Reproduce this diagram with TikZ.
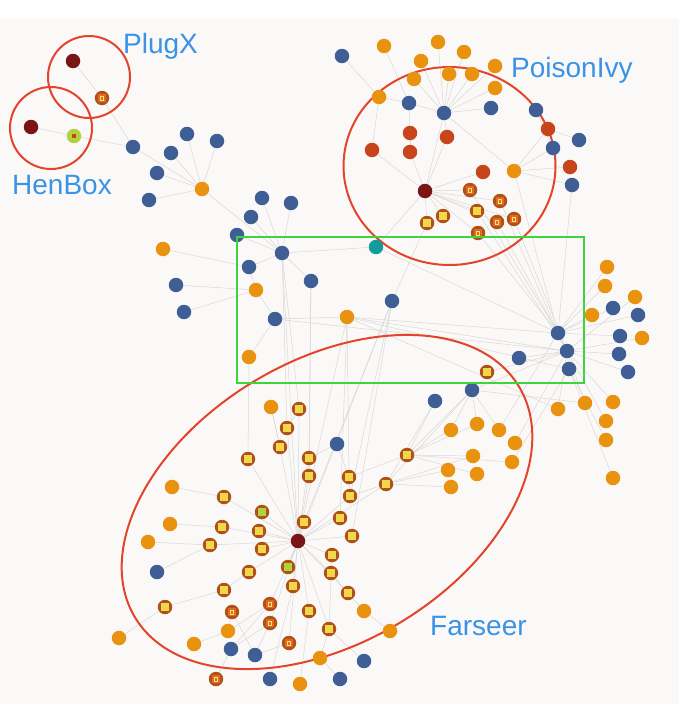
\documentclass[tikz,border=0pt]{standalone}
\usepackage{fontspec}
\setmainfont{Liberation Sans}
\definecolor{bgc}{HTML}{FAF9F7}
\definecolor{orc}{HTML}{E8920F}
\definecolor{blc}{HTML}{3F5E96}
\definecolor{dkr}{HTML}{7B1414}
\definecolor{rdc}{HTML}{C8441A}
\definecolor{ringc}{HTML}{AE521A}
\definecolor{yelc}{HTML}{F2D64B}
\definecolor{rinn}{HTML}{E2691F}
\definecolor{tlc}{HTML}{149B9B}
\definecolor{elc}{HTML}{E3442B}
\definecolor{grc}{HTML}{3ED43E}
\definecolor{lbc}{HTML}{3A93E6}
\definecolor{edc}{HTML}{D8D8D8}
\definecolor{lgc}{HTML}{B3D13C}
\pgfdeclarelayer{bg}
\pgfdeclarelayer{edges}
\pgfdeclarelayer{top}
\pgfsetlayers{bg,edges,main,top}
\tikzset{
  nd/.style={circle,minimum size=14.5pt,inner sep=0pt,draw=none},
  ob/.style={nd,fill=orc},
  bb/.style={nd,fill=blc},
  dh/.style={nd,fill=dkr},
  rr/.style={nd,fill=rdc},
  tb/.style={nd,fill=tlc},
  sqy/.style={nd,fill=ringc,path picture={\fill[yelc] ([xshift=-3.7pt,yshift=-3.7pt]path picture bounding box.center) rectangle ++(7.4pt,7.4pt);}},
  sqg/.style={nd,fill=ringc,path picture={\fill[lgc] ([xshift=-3.7pt,yshift=-3.7pt]path picture bounding box.center) rectangle ++(7.4pt,7.4pt);}},
  sqr/.style={nd,fill=ringc,path picture={\fill[rinn] ([xshift=-3.7pt,yshift=-3.7pt]path picture bounding box.center) rectangle ++(7.4pt,7.4pt);
     \draw[yelc!70!white,line width=0.5pt] ([xshift=-1.6pt,yshift=-1.8pt]path picture bounding box.center) rectangle ++(3.2pt,3.6pt);}},
  gn/.style={nd,fill=lgc,path picture={\fill[rdc] ([xshift=-1.8pt,yshift=-2pt]path picture bounding box.center) rectangle ++(3.6pt,4pt);}},
  edge/.style={draw=edc,line width=0.5pt},
  hull/.style={draw=elc,line width=2pt},
  lab/.style={text=lbc,font=\fontsize{28}{30}\selectfont,anchor=base west,inner sep=0pt}
}
\begin{document}
\begin{tikzpicture}[x=1pt,y=-1pt]
\begin{pgfonlayer}{bg}
\fill[bgc] (0,0) rectangle (679,704);
\fill[white] (0,0) rectangle (679,19);
\end{pgfonlayer}
\useasboundingbox (0,0) rectangle (679,704);
% hulls
\draw[hull] (89,77) circle [radius=41pt];
\draw[hull] (51,128) circle [radius=41pt];
\draw[hull] (449.5,166) ellipse [x radius=106pt, y radius=99pt];
\draw[hull,shift={(327,502)},rotate=31] (0,0) ellipse [x radius=224pt, y radius=141pt];
% labels
\node[lab] (lpx) at (123,53) {PlugX};
\node[lab] (lhb) at (12,194) {HenBox};
\node[lab] (lpi) at (511,77) {PoisonIvy};
\node[lab] (lfs) at (430,635) {Farseer};
% top-left
\node[dh] (pxh) at (73,61) {};
\node[sqr] (pxs) at (102,98) {};
\node[dh] (hbh) at (31,127) {};
\node[gn] (hbg) at (74,136) {};
\node[bb] (b1) at (133,147) {};
\node[bb] (b2) at (171,153) {};
\node[bb] (b3) at (187,134) {};
\node[bb] (b4) at (217,141) {};
\node[bb] (b5) at (157,173) {};
\node[ob] (o1) at (202,189) {};
\node[bb] (b6) at (149,200) {};
\node[bb] (b7) at (262,198) {};
\node[bb] (b8) at (291,203) {};
\node[bb] (b9) at (251,217) {};
\node[bb] (b10) at (237,235) {};
\node[bb] (bh) at (282,253) {};
\node[ob] (o2) at (163,249) {};
\node[bb] (b11) at (249,267) {};
\node[bb] (b12) at (176,285) {};
\node[ob] (o3) at (256,290) {};
\node[bb] (b13) at (311,281) {};
\node[bb] (b14) at (184,312) {};
\node[bb] (b15) at (275,319) {};
\node[ob] (o4) at (347,317) {};
\node[ob] (o5) at (249,357) {};
\node[bb] (b16) at (392,301) {};
\node[tb] (tl) at (376,247) {};
% PoisonIvy
\node[bb] (b20) at (342,56) {};
\node[ob] (o20) at (384,46) {};
\node[ob] (o21) at (438,42) {};
\node[ob] (o22) at (464,52) {};
\node[ob] (o23) at (421,61) {};
\node[ob] (o24) at (495,66) {};
\node[ob] (o25) at (414,79) {};
\node[ob] (o26) at (449,74) {};
\node[ob] (o27) at (472,74) {};
\node[ob] (o28) at (495,88) {};
\node[ob] (o29) at (379,97) {};
\node[bb] (b21) at (409,103) {};
\node[bb] (b22) at (444,113) {};
\node[bb] (b23) at (491,108) {};
\node[bb] (b24) at (536,110) {};
\node[rr] (r1) at (548,129) {};
\node[bb] (b25) at (579,140) {};
\node[bb] (b26) at (553,148) {};
\node[rr] (r2) at (410,133) {};
\node[rr] (r3) at (447,137) {};
\node[rr] (r4) at (372,150) {};
\node[rr] (r5) at (410,152) {};
\node[rr] (r6) at (570,167) {};
\node[bb] (b27) at (572,185) {};
\node[rr] (r7) at (483,172) {};
\node[ob] (o30) at (514,171) {};
\node[dh] (pih) at (425,191) {};
\node[sqr] (s1) at (470,190) {};
\node[sqr] (s2) at (500,201) {};
\node[sqy] (s3) at (477,211) {};
\node[sqy] (s4) at (443,216) {};
\node[sqy] (s5) at (427,223) {};
\node[sqr] (s6) at (497,222) {};
\node[sqr] (s7) at (514,219) {};
\node[sqr] (s8) at (478,233) {};
% right side
\node[ob] (o40) at (607,267) {};
\node[ob] (o41) at (605,286) {};
\node[ob] (o42) at (635,297) {};
\node[bb] (b40) at (613,308) {};
\node[ob] (o43) at (592,315) {};
\node[bb] (b41) at (638,315) {};
\node[bb] (b42) at (558,333) {};
\node[bb] (b43) at (620,336) {};
\node[ob] (o44) at (642,338) {};
\node[bb] (b44) at (567,351) {};
\node[bb] (b45) at (619,354) {};
\node[bb] (b46) at (519,358) {};
\node[bb] (b47) at (569,369) {};
\node[bb] (b48) at (628,372) {};
\node[sqy] (s10) at (487,372) {};
\node[bb] (b49) at (472,390) {};
\node[bb] (b50) at (435,401) {};
\node[ob] (o45) at (585,403) {};
\node[ob] (o46) at (613,402) {};
\node[ob] (o47) at (558,409) {};
\node[ob] (o48) at (606,421) {};
\node[ob] (o49) at (606,440) {};
\node[ob] (o50) at (613,478) {};
\node[ob] (o51) at (451,430) {};
\node[ob] (o52) at (477,424) {};
\node[ob] (o53) at (499,430) {};
\node[ob] (o54) at (515,443) {};
\node[ob] (o55) at (473,456) {};
\node[ob] (o56) at (512,462) {};
\node[ob] (o57) at (448,470) {};
\node[ob] (o58) at (477,474) {};
\node[ob] (o59) at (451,487) {};
\node[sqy] (s11) at (407,455) {};
\node[sqy] (s12) at (386,484) {};
% Farseer
\node[ob] (o60) at (271,407) {};
\node[sqy] (f1) at (299,409) {};
\node[sqy] (f2) at (287,428) {};
\node[sqy] (f3) at (280,447) {};
\node[bb] (b60) at (337,444) {};
\node[sqy] (f4) at (248,459) {};
\node[sqy] (f5) at (309,458) {};
\node[sqy] (f6) at (309,476) {};
\node[sqy] (f7) at (349,477) {};
\node[ob] (o61) at (172,487) {};
\node[sqy] (f8) at (224,497) {};
\node[sqy] (f9) at (350,496) {};
\node[sqg] (g1) at (262,512) {};
\node[sqy] (f10) at (340,518) {};
\node[sqy] (f11) at (304,522) {};
\node[ob] (o62) at (170,524) {};
\node[sqy] (f12) at (222,527) {};
\node[sqy] (f13) at (259,531) {};
\node[dh] (fh) at (298,541) {};
\node[sqy] (f14) at (352,536) {};
\node[ob] (o63) at (148,542) {};
\node[sqy] (f15) at (210,545) {};
\node[sqy] (f16) at (262,549) {};
\node[sqy] (f17) at (332,555) {};
\node[bb] (b61) at (157,572) {};
\node[sqy] (f18) at (249,572) {};
\node[sqg] (g2) at (288,567) {};
\node[sqy] (f19) at (331,573) {};
\node[sqy] (f20) at (224,590) {};
\node[sqy] (f21) at (293,586) {};
\node[sqy] (f22) at (348,593) {};
\node[sqy] (f23) at (165,607) {};
\node[sqr] (fr1) at (270,604) {};
\node[sqr] (fr2) at (232,612) {};
\node[sqy] (f24) at (309,611) {};
\node[ob] (o64) at (364,611) {};
\node[sqr] (fr3) at (270,623) {};
\node[ob] (o65) at (228,631) {};
\node[ob] (o66) at (390,631) {};
\node[sqy] (f25) at (329,629) {};
\node[ob] (o67) at (119,638) {};
\node[ob] (o68) at (194,644) {};
\node[sqr] (fr4) at (289,643) {};
\node[bb] (b62) at (231,649) {};
\node[bb] (b63) at (255,655) {};
\node[ob] (o69) at (320,658) {};
\node[bb] (b64) at (364,661) {};
\node[sqr] (fr5) at (216,679) {};
\node[bb] (b65) at (270,679) {};
\node[ob] (o70) at (300,684) {};
\node[bb] (b66) at (340,679) {};
% edges
\begin{pgfonlayer}{edges}
\foreach \a/\b in {pxh/pxs,pxs/b1,hbh/hbg,hbg/b1,b1/o1,b2/o1,b3/o1,b4/o1,b5/o1,b6/o1,o1/bh,
 b7/bh,b8/bh,b9/bh,b10/bh,b11/bh,b13/bh,bh/tl,o2/b11,b12/o3,b14/o3,b11/o3,o3/b15,b15/o4,o5/b15,
 tl/pih,tl/b42,b16/s5,bh/f1,bh/f2,bh/fh,b13/f5,b13/f6,o5/f4,o60/f3,o4/f7,o4/fh,o4/f10,
 b16/f9,b16/f14,b16/fh,b16/f11,o4/b42,o4/b44,o4/b47,o4/o47,b15/b44,
 b42/o40,b42/o41,b42/o43,b42/b40,b42/b43,b42/s1,b42/s2,b42/s6,b42/s8,b42/o30,b42/b27,b42/b44,
 b44/o42,b44/o44,b44/b45,b44/b48,b44/b46,b44/b47,b44/s3,b44/s7,b44/o45,b44/o46,b44/o47,b44/b49,b44/s10,b44/o48,
 b47/o50,b47/o49,b42/b41,
 b49/o51,b49/o52,b49/o53,b49/s11,b49/s12,b49/o45,b50/s11,b50/s12,
 s11/o51,s11/o52,s11/o55,s11/o56,s11/o58,s11/f7,s12/o57,s12/o59,s12/o55,s12/f9,s12/fh,
 o54/b44,o56/b47,o53/b42,
 pih/s1,pih/s2,pih/s3,pih/s4,pih/s5,pih/s6,pih/s7,pih/s8,pih/r4,pih/r5,pih/r3,pih/r7,pih/b22,
 b22/o21,b22/o22,b22/o23,b22/o24,b22/o25,b22/o26,b22/o27,b22/o28,b22/b23,b22/b21,b22/r3,b22/o30,
 b21/o20,b21/o29,b21/r2,o29/b20,o29/r4,r2/r5,o30/r1,o30/b26,o30/r6,o30/b27,r1/b24,r1/b25,b26/b24,
 fh/f1,fh/f2,fh/f3,fh/f5,fh/f6,fh/f8,fh/g1,fh/f9,fh/f10,fh/f11,fh/f12,fh/f13,fh/f14,fh/f15,fh/f16,
 fh/f17,fh/f18,fh/g2,fh/f19,fh/f21,fh/f22,fh/f24,fh/f25,fh/fr1,fh/fr3,fh/fr4,fh/f4,
 f8/o61,f12/o62,f15/o63,f15/b61,f18/f20,f20/f23,f23/o67,fr2/o65,o65/o68,o65/fr1,fr1/b62,fr3/b62,
 fr3/b63,fr4/b63,fr5/b62,b63/fr2,f22/o64,o64/o66,f25/o69,f25/b64,f24/o70,f21/b65,o69/b66,f19/f22,
 f17/f25,f3/o60,f2/f1,b60/f5,b60/f7,f7/f9}
 \draw[edge] (\a) -- (\b);
\end{pgfonlayer}
\begin{pgfonlayer}{top}
\draw[draw=grc,line width=2.2pt] (237,237) rectangle (584,383);
\end{pgfonlayer}
\end{tikzpicture}
\end{document}
